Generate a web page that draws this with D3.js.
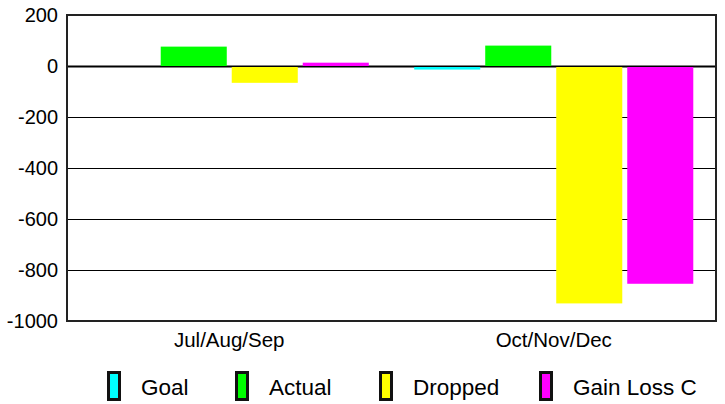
<!DOCTYPE html>
<html>
<head>
<meta charset="utf-8">
<script src="https://cdn.jsdelivr.net/npm/d3@7.9.0/dist/d3.min.js"></script>
<style>
  body { margin: 0; background: #fff; }
  svg { display: block; font-family: "Liberation Sans", Arial, sans-serif; }
</style>
</head>
<body>
<svg id="chart" width="725" height="404"></svg>
<script>
const categories = ['Jul/Aug/Sep', 'Oct/Nov/Dec'];
const seriesNames = ['Goal', 'Actual', 'Dropped', 'Gain Loss C'];
const goal = [0, -14];
const actual = [76, 80];
const dropped = [-66, -931];
const gainLoss = [13, -854];
const yTicks = [200, 0, -200, -400, -600, -800, -1000];

const seriesValues = [goal, actual, dropped, gainLoss];
const colors = ['#00ffff', '#00ff00', '#ffff00', '#ff00ff'];

const plotLeft = 67, plotRight = 716, plotTop = 15, plotBottom = 321;
// legend item left edges
const legendX = [107, 235, 379, 539];

let svg = d3.select('#chart');

let y = d3.scaleLinear().domain([-1000, 200]).range([plotBottom, plotTop]);

let x0 = d3.scaleBand()
    .domain(categories)
    .range([plotLeft, plotRight])
    .paddingInner(0.14)
    .paddingOuter(0.07);

let x1 = d3.scaleBand()
    .domain(seriesNames)
    .range([0, x0.bandwidth()])
    .paddingInner(0.07);

// grid lines
svg.append('g')
    .selectAll('line')
    .data(yTicks.filter((t) => t < 200 && t > -1000))
    .join('line')
    .attr('x1', plotLeft)
    .attr('x2', plotRight)
    .attr('y1', (d) => y(d) + 0.5)
    .attr('y2', (d) => y(d) + 0.5)
    .attr('stroke', '#000')
    .attr('stroke-width', (d) => d === 0 ? 2 : 1);

// bars
categories.forEach((cat, ci) => {
    seriesNames.forEach((name, si) => {
        let v = seriesValues[si][ci];
        if (v === 0) return;
        svg.append('rect')
            .attr('x', x0(cat) + x1(name))
            .attr('width', x1.bandwidth())
            .attr('y', v > 0 ? y(v) : y(0) + 1)
            .attr('height', Math.abs(y(v) - y(0)) - (v > 0 ? 0 : 1))
            .attr('fill', colors[si]);
    });
});

// frame
svg.append('rect')
    .attr('x', plotLeft)
    .attr('y', plotTop)
    .attr('width', plotRight - plotLeft)
    .attr('height', plotBottom - plotTop)
    .attr('fill', 'none')
    .attr('stroke', '#222')
    .attr('stroke-width', 2);

// y tick labels
svg.append('g')
    .selectAll('text')
    .data(yTicks)
    .join('text')
    .attr('x', 58)
    .attr('y', (d) => y(d) + 7)
    .attr('text-anchor', 'end')
    .attr('font-size', 20)
    .attr('fill', '#000')
    .text((d) => d);

// category labels
svg.append('g')
    .selectAll('text')
    .data(categories)
    .join('text')
    .attr('x', (d) => x0(d) + x0.bandwidth() / 2)
    .attr('y', 347)
    .attr('text-anchor', 'middle')
    .attr('font-size', 20.5)
    .attr('fill', '#000')
    .text((d) => d);

// legend
let legend = svg.append('g');
seriesNames.forEach((name, i) => {
    legend.append('rect')
        .attr('x', legendX[i] + 1.5)
        .attr('y', 372.5)
        .attr('width', 11)
        .attr('height', 27)
        .attr('fill', colors[i])
        .attr('stroke', '#111')
        .attr('stroke-width', 3);
    legend.append('text')
        .attr('x', legendX[i] + 34)
        .attr('y', 395)
        .attr('font-size', 22.5)
        .attr('fill', '#000')
        .text(name);
});
</script>
</body>
</html>
